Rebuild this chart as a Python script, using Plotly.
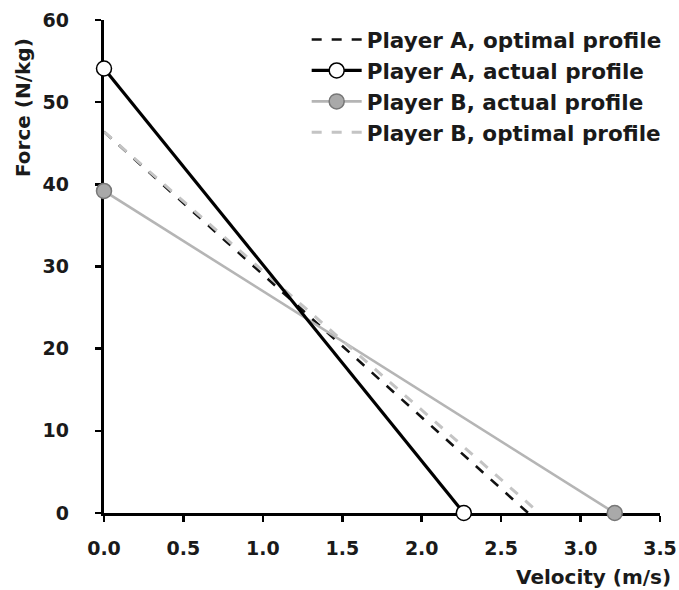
import plotly.graph_objects as go

# Data (velocity in m/s, force in N/kg)
a_opt_v = [0.0, 2.67]
a_opt_f = [46.4, 0.0]
a_act_v = [0.0, 2.265]
a_act_f = [54.1, 0.0]
b_act_v = [0.0, 3.215]
b_act_f = [39.2, 0.0]
b_opt_v = [0.0, 2.74]
b_opt_f = [46.4, 0.0]

x_ticks = [0.0, 0.5, 1.0, 1.5, 2.0, 2.5, 3.0, 3.5]
x_ticklabels = ["0.0", "0.5", "1.0", "1.5", "2.0", "2.5", "3.0", "3.5"]
y_ticks = [0, 10, 20, 30, 40, 50, 60]

FONT = "DejaVu Sans"
TXT = "#1a1a1a"

fig = go.Figure()
fig.add_trace(go.Scatter(
    x=a_opt_v, y=a_opt_f, mode="lines", name="Player A, optimal profile",
    legendgroup="g1", legendrank=1,
    line=dict(color="#111111", width=2.6, dash="10px,10px"),
))
fig.add_trace(go.Scatter(
    x=b_act_v, y=b_act_f, mode="lines+markers", name="Player B, actual profile",
    legendgroup="g3", legendrank=3,
    line=dict(color="#b5b5b5", width=2.6),
    marker=dict(size=15, color="#a9a9a9", line=dict(color="#777777", width=1.5)),
    cliponaxis=False,
))
fig.add_trace(go.Scatter(
    x=b_opt_v, y=b_opt_f, mode="lines", name="Player B, optimal profile",
    legendgroup="g4", legendrank=4,
    line=dict(color="#c4c4c4", width=3.0, dash="10px,10px"),
))
fig.add_trace(go.Scatter(
    x=a_act_v, y=a_act_f, mode="lines+markers", name="Player A, actual profile",
    legendgroup="g2", legendrank=2,
    line=dict(color="#000000", width=3.2),
    marker=dict(size=15, color="#ffffff", line=dict(color="#000000", width=1.5)),
    cliponaxis=False,
))

fig.update_layout(
    template="none",
    width=679, height=590,
    margin=dict(l=104, r=19, t=20, b=77, autoexpand=False),
    paper_bgcolor="white", plot_bgcolor="white",
    font=dict(family=FONT, size=19, color=TXT, weight="bold"),
    showlegend=True,
    hovermode=False,
    legend=dict(
        x=1.012, xanchor="right", y=1.002, yanchor="top",
        font=dict(family=FONT, size=21.5, color=TXT, weight="bold"),
        bgcolor="rgba(0,0,0,0)",
        traceorder="grouped", tracegroupgap=0,
        itemwidth=50,
    ),
    xaxis=dict(
        range=[0, 3.5], tickvals=x_ticks, ticktext=x_ticklabels,
        showgrid=False, zeroline=False, automargin=False,
        showline=True, linecolor="black", linewidth=3.2,
        ticks="outside", ticklen=6, tickwidth=2.5, tickcolor="black",
        layer="below traces",
        tickfont=dict(family=FONT, size=19, color=TXT, weight="bold"),
        ticklabelstandoff=10,
    ),
    yaxis=dict(
        range=[0, 60], tickvals=y_ticks,
        showgrid=False, zeroline=False, automargin=False,
        showline=True, linecolor="black", linewidth=3.2,
        ticks="outside", ticklen=6, tickwidth=2.5, tickcolor="black",
        layer="below traces",
        tickfont=dict(family=FONT, size=19, color=TXT, weight="bold"),
        ticklabelstandoff=22,
    ),
    annotations=[
        dict(text="Force (N/kg)", xref="paper", yref="paper",
             x=-0.1457, y=0.8235, xanchor="center", yanchor="middle",
             textangle=-90, showarrow=False,
             font=dict(family=FONT, size=20, color=TXT, weight="bold")),
        dict(text="Velocity (m/s)", xref="paper", yref="paper",
             x=1.0234, y=-0.1298, xanchor="right", yanchor="middle",
             showarrow=False,
             font=dict(family=FONT, size=20, color=TXT, weight="bold")),
    ],
)

fig.write_html(
    "out.html",
    config={"displayModeBar": False, "staticPlot": True},
    post_script="document.body.style.margin='0';document.body.style.overflow='hidden';",
)
